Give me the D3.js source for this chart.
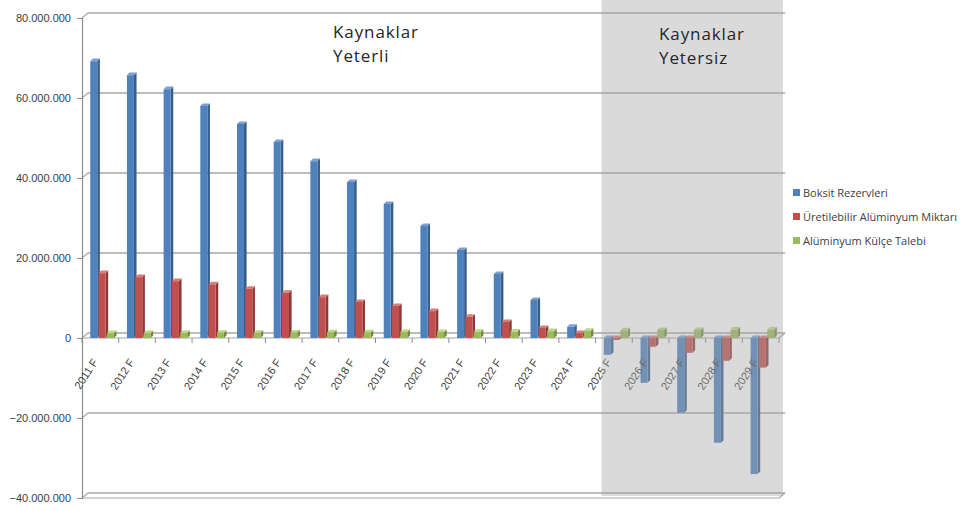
<!DOCTYPE html>
<meta charset="utf-8">
<style>
body { margin: 0; background: #fff; }
svg text { font-family: "Liberation Sans", Arial, sans-serif; fill: #404040; }
.note { font-family: "Open Sans", sans-serif; font-size: 17px; letter-spacing: 0.9px; fill: #262626; }
</style>
<body>
<script src="https://cdn.jsdelivr.net/npm/d3@7"></script>
<script>

// years on the x axis
var categories = ["2011 F","2012 F","2013 F","2014 F","2015 F","2016 F","2017 F","2018 F","2019 F","2020 F",
  "2021 F","2022 F","2023 F","2024 F","2025 F","2026 F","2027 F","2028 F","2029 F"];

var seriesNames = ["Boksit Rezervleri", "Üretilebilir Alüminyum Miktarı", "Alüminyum Külçe Talebi"];

// values (tonnes)
var boksit = [69200000, 65700000, 62200000, 58000000, 53500000, 49000000, 44200000, 39000000, 33500000, 28000000,
  22000000, 16000000, 9500000, 2800000, -4200000, -11200000, -18700000, -26200000, -34000000];
var uretilebilir = [16200000, 15200000, 14200000, 13400000, 12300000, 11300000, 10200000, 9000000, 8000000, 6700000,
  5300000, 4000000, 2500000, 1200000, -500000, -2200000, -3700000, -5700000, -7400000];
var talep = [1200000, 1200000, 1250000, 1300000, 1300000, 1350000, 1400000, 1400000, 1500000, 1500000,
  1550000, 1600000, 1700000, 1800000, 1900000, 2000000, 2000000, 2100000, 2100000];

var yTicks = [-40000000, -20000000, 0, 20000000, 40000000, 60000000, 80000000];

var notes = [
  {lines: ["Kaynaklar", "Yeterli"], x: 333, y: 38},
  {lines: ["Kaynaklar", "Yetersiz"], x: 659, y: 40}
];

var colors = [
  {front: "#4f81bd", side: "#385d8a", top: "#7a9fd0"},
  {front: "#c0504d", side: "#8c3836", top: "#d77c79"},
  {front: "#9bbb59", side: "#71893f", top: "#bcd68a"}
];

var width = 963, height = 511;
var dxw = 6, dyw = -5;   // depth offset of the back wall

var svg = d3.select("body").append("svg")
    .attr("width", width)
    .attr("height", height);

var x = d3.scaleBand()
    .domain(categories)
    .range([82, 779]);

var xs = d3.scaleBand()
    .domain([0, 1, 2])
    .range([x.bandwidth() * 0.225, x.bandwidth() * 0.905]);

var y = d3.scaleLinear()
    .domain([-40000000, 80000000])
    .range([498, 18]);

var locale = d3.formatLocale({decimal: ",", thousands: ".", grouping: [3], currency: ["", ""]});
var fmt = locale.format(",");

var x0 = x.range()[0], x1 = x.range()[1];

// back wall gridlines
var grid = svg.append("g");
yTicks.forEach(function(v) {
  grid.append("line")
      .attr("x1", x0 + dxw).attr("x2", x1 + dxw)
      .attr("y1", y(v) + dyw).attr("y2", y(v) + dyw)
      .attr("stroke", "#a6a6a6").attr("stroke-width", 1.5);
  grid.append("line")
      .attr("x1", x0).attr("x2", x0 + dxw)
      .attr("y1", y(v)).attr("y2", y(v) + dyw)
      .attr("stroke", "#a6a6a6").attr("stroke-width", 1.2);
});

// floor at zero and base at the bottom
[0, -40000000].forEach(function(v) {
  grid.append("path")
      .attr("d", "M" + x0 + "," + y(v) + "L" + x1 + "," + y(v) + "L" + (x1 + dxw) + "," + (y(v) + dyw))
      .attr("fill", "none")
      .attr("stroke", "#a6a6a6").attr("stroke-width", 1.2);
});

// y axis
var yAxis = svg.append("g")
    .attr("transform", "translate(" + x0 + ",0)")
    .call(d3.axisLeft(y).tickValues(yTicks).tickFormat(fmt).tickSize(5).tickPadding(6));
yAxis.select(".domain").attr("stroke", "#8c8c8c").attr("stroke-width", 1.2);
yAxis.selectAll(".tick line").attr("stroke", "#8c8c8c");
yAxis.selectAll("text").style("font-size", "11px").attr("fill", "#404040");

// x tick marks at band edges
var xt = svg.append("g");
categories.concat([null]).forEach(function(c) {
  var px = c === null ? x1 : x(c);
  xt.append("line")
      .attr("x1", px).attr("x2", px)
      .attr("y1", y(0)).attr("y2", y(0) + 5)
      .attr("stroke", "#8c8c8c");
});

// 3D-ish bars
var series = [boksit, uretilebilir, talep];
var d = 2.6;
var barW = xs.bandwidth() - 1.3;

function barShape(c, s, v) {
  var bx = x(c) + xs(s), bw = barW;
  var t = Math.min(y(v), y(0)), b = Math.max(y(v), y(0));
  return {
    front: [[bx, t], [bx + bw, t], [bx + bw, b], [bx, b]],
    side: [[bx + bw, t], [bx + bw + d, t - d], [bx + bw + d, b - d], [bx + bw, b]],
    top: [[bx, t], [bx + d, t - d], [bx + bw + d, t - d], [bx + bw, t]]
  };
}

var line = d3.line();
var bars = svg.append("g");
categories.forEach(function(c, i) {
  series.forEach(function(vals, s) {
    var sh = barShape(c, s, vals[i]);
    var g = bars.append("g");
    g.append("path").attr("d", line(sh.side) + "Z").attr("fill", colors[s].side);
    g.append("path").attr("d", line(sh.top) + "Z").attr("fill", colors[s].top);
    g.append("path").attr("d", line(sh.front) + "Z").attr("fill", colors[s].front);
  });
});

// x labels
svg.append("g").selectAll("text")
    .data(categories)
  .enter().append("text")
    .attr("text-anchor", "end")
    .attr("transform", function(c) {
      return "translate(" + (x(c) + x.bandwidth() / 2 - 2) + "," + (y(0) + 24) + ") rotate(-57)";
    })
    .style("font-size", "11px")
    .attr("fill", "#333")
    .text(function(c) { return c; });

// grey "insufficient" region
var greyStart = x("2025 F") + dxw;
svg.append("rect")
    .attr("x", greyStart)
    .attr("y", 0)
    .attr("width", x1 + dxw - 2 - greyStart)
    .attr("height", y(-40000000) - 2)
    .attr("fill", "#a6a6a6")
    .attr("opacity", 0.42);

// annotations
notes.forEach(function(n) {
  n.lines.forEach(function(t, j) {
    svg.append("text")
        .attr("class", "note")
        .attr("x", n.x)
        .attr("y", n.y + j * 24)
        .text(t);
  });
});

// legend
var legend = svg.append("g")
    .attr("transform", "translate(793,193)");
seriesNames.forEach(function(name, i) {
  var row = legend.append("g")
      .attr("transform", "translate(0," + (i * 24) + ")");
  row.append("rect")
      .attr("x", 0).attr("y", -4)
      .attr("width", 7).attr("height", 7)
      .attr("fill", colors[i].front);
  row.append("text")
      .attr("x", 10)
      .attr("y", 4)
      .style("font-family", "'Open Sans', sans-serif")
      .style("font-size", "11px")
      .text(name);
});

</script>
</body>
